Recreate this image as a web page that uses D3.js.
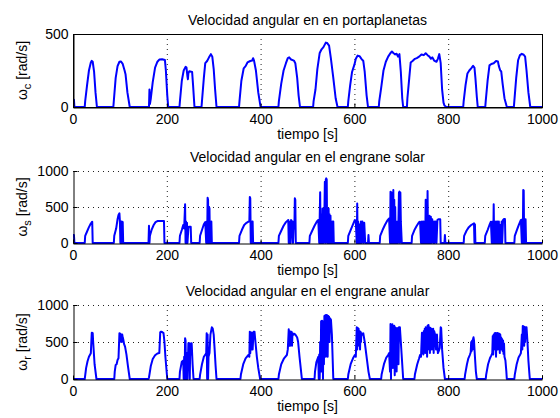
<!DOCTYPE html>
<html>
<head>
<meta charset="utf-8">
<script src="https://cdnjs.cloudflare.com/ajax/libs/d3/7.8.5/d3.min.js"></script>
<style>
  body { margin: 0; background: #fff; }
  text { font-family: "Liberation Sans", Arial, sans-serif; }
</style>
</head>
<body>
<div id="chart"></div>
<script>
// x ticks shared by all three subplots
var xTicks = [0, 200, 400, 600, 800, 1000];

// angular speed of the carrier (portaplanetas) [t, rad/s]
var wCarrier = [
  [0,50],[2,50],[3,0],
  [25,0],[26,40],[30,150],[34,250],[38,305],[40,316],[42,310],[45,240],[48,100],[51,0],
  [86,0],[87,40],[91,200],[95,280],[99,310],[102,312],[106,295],[110,250],[112,225],[116,100],[121,0],
  [162,0],[163,120],[164,20],[166,60],[170,170],[175,270],[180,310],[184,325],[190,327],[196,322],[198,250],[201,80],[203,0],
  [227,0],[228,40],[232,180],[236,250],[240,275],[242,270],[244,210],[245,190],[246,230],[248,245],[254,240],[256,150],[259,0],
  [274,0],[275,40],[279,200],[282,300],[286,315],[290,340],[294,362],[297,345],[300,260],[303,120],[306,0],
  [354,0],[355,40],[359,180],[364,265],[368,280],[372,305],[378,315],[382,318],[384,334],[386,318],[390,250],[395,100],[400,0],
  [438,0],[439,40],[444,160],[449,250],[454,300],[458,335],[461,340],[465,325],[471,318],[474,300],[478,200],[481,80],[484,0],
  [512,0],[513,40],[517,120],[521,260],[526,370],[530,395],[534,410],[539,441],[542,438],[546,420],[550,330],[555,200],[560,60],[564,0],
  [586,0],[587,40],[591,150],[595,240],[600,290],[603,330],[607,352],[611,348],[615,330],[619,315],[622,240],[626,80],[629,0],
  [652,0],[653,40],[657,130],[662,250],[667,310],[672,345],[677,370],[680,380],[683,370],[687,360],[690,365],[693,345],[696,362],[699,240],[702,60],[704,0],
  [712,0],[713,60],[717,200],[720,305],[724,315],[729,330],[733,335],[738,345],[743,360],[748,355],[752,368],[756,355],[760,345],[763,330],[766,340],[770,318],[775,310],[778,330],[781,362],[784,300],[787,120],[790,30],[792,10],[796,0],
  [832,0],[833,40],[837,150],[841,230],[845,250],[849,265],[853,282],[856,270],[858,200],[861,70],[863,0],
  [879,0],[880,40],[884,180],[888,285],[892,295],[897,300],[902,315],[906,312],[908,280],[911,250],[913,245],[916,160],[920,60],[925,0],
  [940,0],[941,40],[945,200],[949,320],[953,355],[957,364],[961,358],[964,345],[967,250],[971,100],[975,0],
  [1000,0]
];

// angular speed of the sun gear (engrane solar)
var wSun = [
  [0,110],[2,110],[3,0],
  [25,0],[26,100],[30,160],[34,220],[38,270],[41,296],[42,0],
  [87,0],[88,100],[92,200],[95,330],[97,390],[99,412],[100,300],[101,0],[102,300],[103,0],[104,300],[105,0],[106,290],[107,0],
  [161,0],[162,240],[163,0],[164,100],[168,190],[172,250],[176,290],[180,305],[188,306],[194,306],[195,0],
  [227,0],[228,100],[232,180],[235,250],[237,200],[239,537],[240,0],[241,300],[242,0],[243,280],[244,0],[246,200],[247,227],[251,227],[252,0],
  [270,0],[271,100],[275,180],[279,260],[282,290],[284,0],[285,300],[286,0],[287,630],[288,600],[289,0],[290,505],[291,480],[292,0],[293,300],[294,0],[295,300],[296,0],
  [354,0],[355,100],[360,180],[365,250],[370,280],[374,296],[376,300],[377,640],[378,620],[379,0],[380,300],[381,0],[382,300],[383,300],[384,0],
  [438,0],[439,100],[444,170],[449,240],[454,290],[459,320],[460,0],[461,300],[462,0],[463,300],[464,0],[465,320],[467,300],[469,0],[471,300],[472,200],[473,620],[474,600],[475,0],
  [504,0],[505,100],[510,170],[515,240],[520,300],[523,320],[525,0],[526,350],[527,704],[528,0],[529,400],[530,380],[531,0],[532,480],[533,400],[534,0],[535,480],[536,400],[537,852],[538,0],[539,880],[540,898],[541,880],[542,0],[543,400],[544,0],[545,480],[546,0],[547,400],[548,0],[549,380],[550,0],[551,300],[552,0],[553,300],[554,0],[555,300],[556,0],
  [586,0],[587,100],[592,180],[597,260],[601,320],[603,300],[605,0],[606,550],[607,0],[608,300],[609,0],[610,260],[612,0],[614,300],[615,0],[617,300],[619,0],[621,280],[623,0],[629,0],[630,110],[631,0],
  [654,0],[655,100],[660,180],[665,250],[670,310],[674,340],[676,0],[677,713],[678,0],[679,700],[680,0],[681,500],[682,0],[683,736],[684,0],[685,600],[686,0],[687,500],[688,0],[689,300],[690,0],[692,300],[693,0],[695,700],[696,713],[697,0],[698,700],[699,300],[701,0],
  [722,0],[723,100],[728,180],[733,240],[738,290],[740,296],[742,0],[744,300],[745,0],[747,300],[748,0],[750,300],[751,0],[752,600],[753,0],[754,550],[755,0],[756,722],[757,0],[758,366],[759,0],[760,380],[761,0],[763,366],[764,0],[766,330],[768,0],[770,300],[771,0],[773,300],[775,0],[777,320],[779,330],[783,330],[784,0],[792,0],[793,111],[794,0],
  [833,0],[834,100],[839,170],[844,220],[849,250],[855,273],[856,0],[857,260],[858,0],
  [878,0],[879,100],[884,180],[888,250],[891,296],[893,0],[895,300],[896,0],[897,537],[898,0],[899,300],[900,0],[902,300],[903,0],[905,300],[906,0],[908,300],[909,0],[911,250],[912,0],[914,300],[915,0],[917,320],[919,333],[921,333],[922,0],
  [941,0],[942,100],[947,190],[951,260],[955,320],[957,0],[958,330],[959,0],[960,736],[961,730],[962,0],[963,330],[964,0],[965,330],[966,0],
  [1000,0]
];

// angular speed of the ring gear (engrane anular)
var wRing = [
  [0,0],[25,0],[26,50],[28,150],[31,240],[34,300],[38,347],[40,626],[42,620],[43,500],[46,200],[50,0],
  [88,0],[89,100],[91,190],[93,200],[95,257],[97,280],[99,617],[100,500],[101,610],[102,520],[103,600],[104,500],[105,600],[106,560],[107,540],[109,470],[111,437],[114,330],[117,180],[121,0],
  [161,0],[162,20],[166,180],[170,270],[175,320],[180,345],[184,350],[186,630],[188,640],[190,635],[193,620],[195,500],[197,300],[201,0],
  [227,0],[228,100],[232,234],[235,250],[236,0],[237,300],[238,0],[239,550],[240,520],[241,0],[242,300],[243,350],[244,0],[246,482],[247,300],[248,482],[249,0],[250,480],[251,330],[253,482],[255,200],[257,0],
  [270,0],[271,60],[275,200],[279,300],[284,347],[285,617],[286,0],[287,600],[288,0],[289,300],[291,350],[293,600],[296,698],[298,680],[300,600],[302,400],[304,180],[306,0],
  [357,0],[358,60],[363,200],[368,280],[374,324],[376,300],[377,640],[378,350],[380,630],[381,400],[382,620],[383,400],[385,640],[387,640],[389,500],[392,300],[395,150],[399,0],
  [438,0],[439,60],[444,200],[450,280],[456,324],[458,400],[460,671],[461,450],[462,650],[463,450],[464,620],[465,500],[466,640],[467,450],[468,620],[470,600],[472,610],[474,600],[476,580],[478,560],[480,500],[483,300],[486,120],[488,0],
  [515,0],[516,100],[519,230],[523,300],[524,0],[525,330],[526,0],[527,500],[528,100],[529,780],[530,100],[531,788],[532,700],[533,0],[534,780],[535,200],[536,850],[537,400],[538,860],[539,300],[540,865],[541,500],[542,860],[543,300],[544,850],[545,600],[546,840],[547,500],[548,820],[550,800],[552,600],[554,200],[555,0],
  [586,0],[587,60],[592,200],[597,280],[601,324],[603,300],[605,698],[606,400],[607,690],[608,500],[609,680],[610,450],[611,650],[612,400],[613,640],[614,500],[615,620],[617,600],[619,617],[622,500],[626,300],[630,100],[633,0],
  [657,0],[658,60],[663,200],[668,290],[672,324],[674,350],[676,100],[677,743],[678,0],[679,730],[680,300],[681,740],[682,150],[683,700],[684,400],[685,720],[686,50],[687,700],[688,300],[689,650],[690,100],[691,690],[692,300],[693,650],[694,200],[695,700],[697,700],[699,500],[702,200],[704,0],
  [728,0],[729,60],[734,200],[738,280],[740,324],[742,300],[744,626],[745,350],[746,600],[747,330],[748,650],[749,400],[750,680],[751,350],[752,700],[753,400],[754,690],[755,300],[756,720],[757,400],[758,730],[759,500],[760,700],[761,350],[762,690],[763,450],[764,680],[765,400],[766,670],[767,500],[768,680],[769,350],[770,650],[772,600],[774,400],[776,600],[778,350],[780,380],[782,420],[784,700],[785,690],[787,400],[790,150],[793,0],
  [835,0],[836,60],[840,200],[843,280],[846,324],[848,360],[849,500],[850,380],[851,520],[852,400],[853,540],[854,563],[855,520],[857,300],[859,100],[861,0],
  [880,0],[881,60],[885,200],[889,280],[892,320],[894,350],[895,580],[896,330],[897,600],[898,400],[899,617],[900,450],[901,620],[902,300],[903,610],[904,500],[905,620],[906,400],[907,615],[908,500],[909,610],[910,350],[911,600],[912,500],[913,560],[914,400],[915,540],[916,380],[917,520],[918,340],[919,480],[920,300],[922,250],[924,100],[925,0],
  [941,0],[942,60],[946,200],[950,290],[953,324],[955,350],[957,600],[958,400],[959,716],[960,500],[961,710],[962,450],[963,700],[964,500],[965,700],[967,700],[969,500],[971,250],[973,80],[974,0],
  [1000,0]
];

var titles = [
  "Velocidad angular en en portaplanetas",
  "Velocidad angular en el engrane solar",
  "Velocidad angular en el engrane anular"
];
var subs = ["c", "s", "r"];
var yMaxes = [500, 1000, 1000];
var yTickSets = [[0, 500], [0, 500, 1000], [0, 500, 1000]];

// panel geometry (pixel boxes of the three axes)
var left = 73, right = 542;
var panels = [
  { top: 34, bottom: 107, data: wCarrier, boxOn: true },
  { top: 171, bottom: 243, data: wSun, boxOn: false },
  { top: 305, bottom: 379, data: wRing, boxOn: false }
];

var svg = d3.select("#chart")
  .append("svg")
  .attr("width", 560)
  .attr("height", 418)
  .style("background", "#fff");

var x = d3.scaleLinear().domain([0, 1000]).range([left, right]);

panels.forEach(function (p, i) {
  var y = d3.scaleLinear().domain([0, yMaxes[i]]).range([p.bottom, p.top]);
  var g = svg.append("g");

  // dotted grid
  var gridX = p.boxOn ? [200, 400, 600, 800] : [200, 400, 600, 800, 1000];
  g.selectAll(".gx")
    .data(gridX)
    .enter()
    .append("line")
    .attr("x1", function (d) { return x(d) + 0.5; })
    .attr("x2", function (d) { return x(d) + 0.5; })
    .attr("y1", p.top)
    .attr("y2", p.bottom)
    .style("stroke", "#222")
    .style("stroke-width", 1)
    .style("stroke-dasharray", "1,4");

  if (!p.boxOn) {
    g.selectAll(".gy")
      .data([500, 1000])
      .enter()
      .append("line")
      .attr("x1", left)
      .attr("x2", right)
      .attr("y1", function (d) { return y(d) + 0.5; })
      .attr("y2", function (d) { return y(d) + 0.5; })
      .style("stroke", "#222")
      .style("stroke-width", 1)
      .style("stroke-dasharray", "1,4");
  }

  // the speed trace
  var line = d3.line()
    .x(function (d) { return x(d[0]); })
    .y(function (d) { return y(d[1]); });
  g.append("path")
    .datum(p.data)
    .attr("d", line)
    .style("fill", "none")
    .style("stroke", "#0000ff")
    .style("stroke-width", 2)
    .style("stroke-linejoin", "round");

  // box around the first panel
  if (p.boxOn) {
    g.append("rect")
      .attr("x", left + 0.5)
      .attr("y", p.top + 0.5)
      .attr("width", right - left)
      .attr("height", p.bottom - p.top)
      .style("fill", "none")
      .style("stroke", "#000");
  }

  // X axis
  var xAxis = g.append("g")
    .attr("transform", "translate(0," + (p.bottom + 0.5) + ")")
    .call(d3.axisBottom(x).tickValues(xTicks).tickFormat(d3.format("d"))
      .tickSizeInner(-4).tickSizeOuter(0).tickPadding(7));
  // Y axis
  var yAxis = g.append("g")
    .attr("transform", "translate(" + (left + 0.5) + ",0)")
    .call(d3.axisLeft(y).tickValues(yTickSets[i]).tickFormat(d3.format("d"))
      .tickSizeInner(-4).tickSizeOuter(0).tickPadding(5));

  [xAxis, yAxis].forEach(function (a) {
    a.selectAll("path, line").style("stroke", "#000");
    a.selectAll("text")
      .style("font-family", "'Liberation Sans', Arial, sans-serif")
      .style("font-size", "14px")
      .style("fill", "#000");
  });

  // title
  g.append("text")
    .attr("x", (left + right) / 2)
    .attr("y", p.top - 9)
    .style("text-anchor", "middle")
    .style("font-size", "14px")
    .text(titles[i]);

  // X axis label
  g.append("text")
    .attr("x", (left + right) / 2)
    .attr("y", p.bottom + 32)
    .style("text-anchor", "middle")
    .style("font-size", "14px")
    .text("tiempo [s]");

  // Y axis label with subscript
  var yl = g.append("text")
    .attr("transform", "translate(27," + ((p.top + p.bottom) / 2) + ") rotate(-90)")
    .style("text-anchor", "middle")
    .style("font-size", "14px");
  yl.append("tspan").text("\u03c9");
  yl.append("tspan").attr("dy", 4).style("font-size", "11px").text(subs[i]);
  yl.append("tspan").attr("dy", -4).text(" [rad/s]");
});
</script>
</body>
</html>
